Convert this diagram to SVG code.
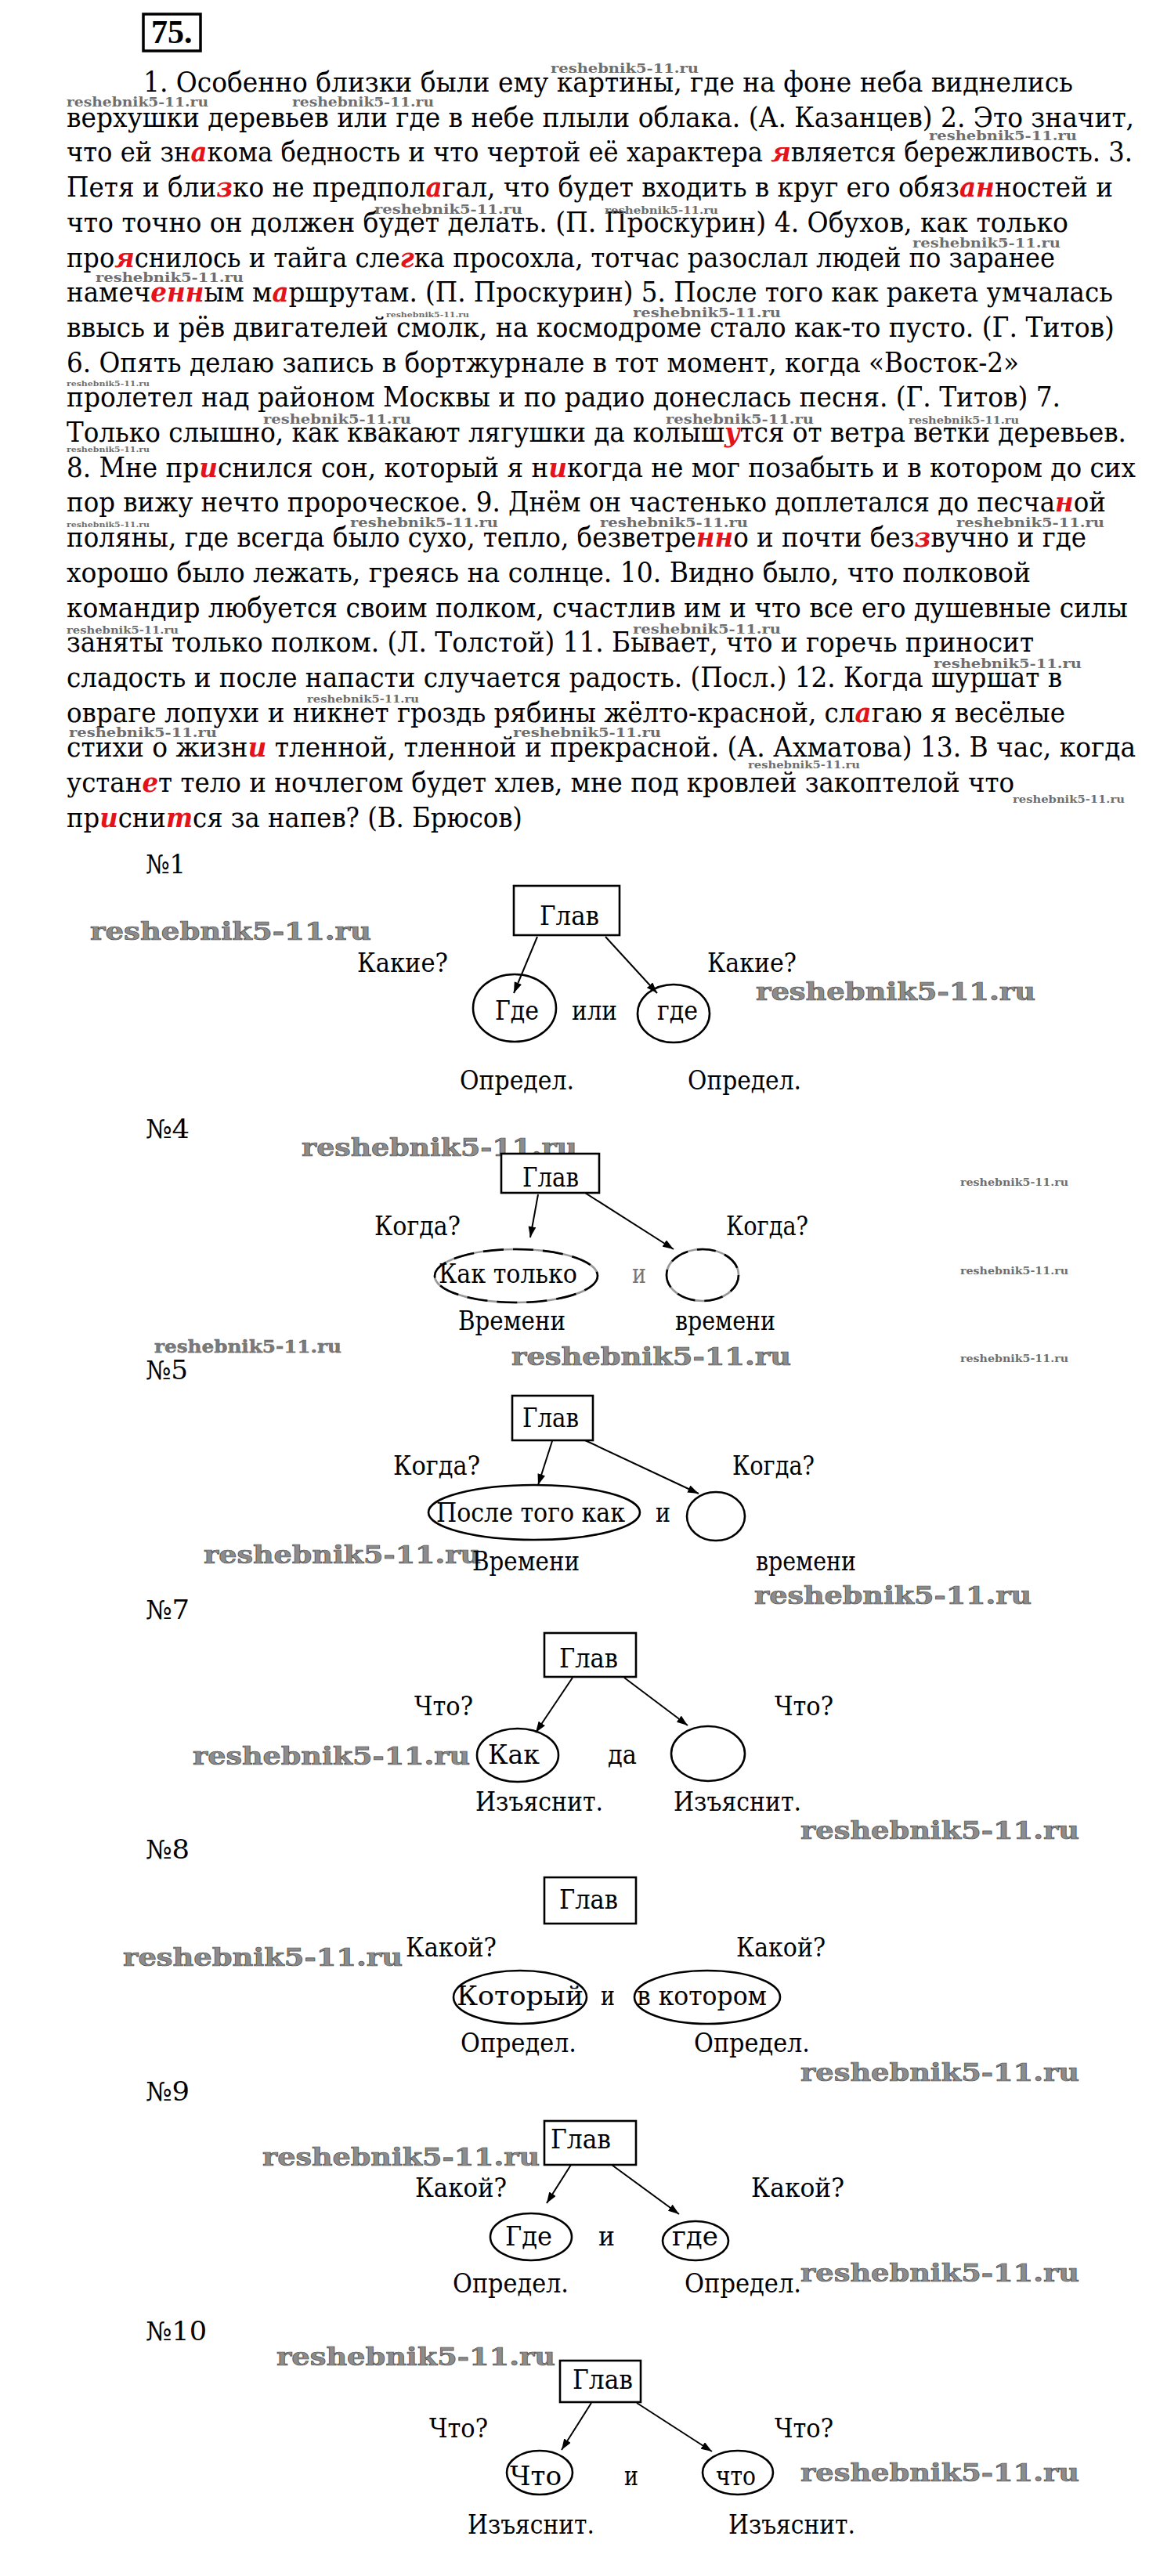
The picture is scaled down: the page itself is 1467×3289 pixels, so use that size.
<svg xmlns="http://www.w3.org/2000/svg" width="1467" height="3289" viewBox="0 0 1467 3289">
<style>
.t{font-family:"DejaVu Serif Condensed","DejaVu Serif",serif;font-stretch:condensed;font-size:36px;fill:#000}
.r{fill:#e3121b;font-style:italic;font-weight:bold}
.d{font-family:"DejaVu Serif Condensed","DejaVu Serif",serif;font-stretch:condensed;font-size:34px;fill:#000}
.no{font-family:"DejaVu Serif Condensed","DejaVu Serif",serif;font-stretch:condensed;font-size:33px;fill:#000}
.box{fill:#fff;stroke:#000;stroke-width:2.6}
.ell{fill:none;stroke:#000;stroke-width:2.6}
.con{stroke:#000;stroke-width:2;fill:none;marker-end:url(#ah)}
.wl{font-family:"DejaVu Serif",serif;font-weight:bold;font-size:32px;fill:#8c8c8c;stroke:#4a4a4a;stroke-width:0.7}
.wm{font-family:"DejaVu Serif",serif;font-weight:bold;font-size:22px;fill:#7a7a7a;stroke:#555;stroke-width:0.4}
.ws{font-family:"DejaVu Serif",serif;font-weight:bold;font-size:17px;fill:#6e6e6e}
.wt{font-family:"DejaVu Serif",serif;font-weight:bold;font-size:13px;fill:#6e6e6e}
.wx{font-family:"DejaVu Serif",serif;font-weight:bold;font-size:10px;fill:#6e6e6e}
</style>
<defs>
<marker id="ah" viewBox="0 0 14 10" refX="14" refY="5" markerWidth="14" markerHeight="10" markerUnits="userSpaceOnUse" orient="auto">
<path d="M0,0 L14,5 L0,10 z" fill="#000"/>
</marker>
</defs>
<rect width="1467" height="3289" fill="#fff"/>

<g id="header">
<rect x="183" y="18" width="73" height="47" fill="none" stroke="#000" stroke-width="3.5"/>
<text x="193" y="55" font-family="Liberation Serif, serif" font-weight="bold" font-size="42">75.</text>
</g>

<g id="text-block" class="t">
<text x="183" y="117" textLength="1187" lengthAdjust="spacingAndGlyphs">1. Особенно близки были ему картины, где на фоне неба виднелись</text>
<text x="85" y="161.7" textLength="1363" lengthAdjust="spacingAndGlyphs">верхушки деревьев или где в небе плыли облака. (А. Казанцев) 2. Это значит,</text>
<text x="85" y="206.4" textLength="1361" lengthAdjust="spacingAndGlyphs">что ей зн<tspan class="r">а</tspan>кома бедность и что чертой её характера <tspan class="r">я</tspan>вляется бережливость. 3.</text>
<text x="85" y="251.1" textLength="1336" lengthAdjust="spacingAndGlyphs">Петя и бли<tspan class="r">з</tspan>ко не предпол<tspan class="r">а</tspan>гал, что будет входить в круг его обяз<tspan class="r">ан</tspan>ностей и</text>
<text x="85" y="295.8" textLength="1279" lengthAdjust="spacingAndGlyphs">что точно он должен будет делать. (П. Проскурин) 4. Обухов, как только</text>
<text x="85" y="340.5" textLength="1262" lengthAdjust="spacingAndGlyphs">про<tspan class="r">я</tspan>снилось и тайга сле<tspan class="r">г</tspan>ка просохла, тотчас разослал людей по заранее</text>
<text x="85" y="385.2" textLength="1336" lengthAdjust="spacingAndGlyphs">намеч<tspan class="r">енн</tspan>ым м<tspan class="r">а</tspan>ршрутам. (П. Проскурин) 5. После того как ракета умчалась</text>
<text x="85" y="429.9" textLength="1338" lengthAdjust="spacingAndGlyphs">ввысь и рёв двигателей смолк, на космодроме стало как-то пусто. (Г. Титов)</text>
<text x="85" y="474.6" textLength="1216" lengthAdjust="spacingAndGlyphs">6. Опять делаю запись в бортжурнале в тот момент, когда «Восток-2»</text>
<text x="85" y="519.3" textLength="1269" lengthAdjust="spacingAndGlyphs">пролетел над районом Москвы и по радио донеслась песня. (Г. Титов) 7.</text>
<text x="85" y="564" textLength="1353" lengthAdjust="spacingAndGlyphs">Только слышно, как квакают лягушки да колыш<tspan class="r">у</tspan>тся от ветра ветки деревьев.</text>
<text x="85" y="608.7" textLength="1365" lengthAdjust="spacingAndGlyphs">8. Мне пр<tspan class="r">и</tspan>снился сон, который я н<tspan class="r">и</tspan>когда не мог позабыть и в котором до сих</text>
<text x="85" y="653.4" textLength="1327" lengthAdjust="spacingAndGlyphs">пор вижу нечто пророческое. 9. Днём он частенько доплетался до песча<tspan class="r">н</tspan>ой</text>
<text x="85" y="698.1" textLength="1302" lengthAdjust="spacingAndGlyphs">поляны, где всегда было сухо, тепло, безветре<tspan class="r">нн</tspan>о и почти без<tspan class="r">з</tspan>вучно и где</text>
<text x="85" y="742.8" textLength="1231" lengthAdjust="spacingAndGlyphs">хорошо было лежать, греясь на солнце. 10. Видно было, что полковой</text>
<text x="85" y="787.5" textLength="1355" lengthAdjust="spacingAndGlyphs">командир любуется своим полком, счастлив им и что все его душевные силы</text>
<text x="85" y="832.2" textLength="1235" lengthAdjust="spacingAndGlyphs">заняты только полком. (Л. Толстой) 11. Бывает, что и горечь приносит</text>
<text x="85" y="876.9" textLength="1271" lengthAdjust="spacingAndGlyphs">сладость и после напасти случается радость. (Посл.) 12. Когда шуршат в</text>
<text x="85" y="921.6" textLength="1275" lengthAdjust="spacingAndGlyphs">овраге лопухи и никнет гроздь рябины жёлто-красной, сл<tspan class="r">а</tspan>гаю я весёлые</text>
<text x="85" y="966.3" textLength="1365" lengthAdjust="spacingAndGlyphs">стихи о жизн<tspan class="r">и</tspan> тленной, тленной и прекрасной. (А. Ахматова) 13. В час, когда</text>
<text x="85" y="1011" textLength="1210" lengthAdjust="spacingAndGlyphs">устан<tspan class="r">е</tspan>т тело и ночлегом будет хлев, мне под кровлей закоптелой что</text>
<text x="85" y="1055.7" textLength="582" lengthAdjust="spacingAndGlyphs">пр<tspan class="r">и</tspan>сни<tspan class="r">т</tspan>ся за напев? (В. Брюсов)</text>
</g>

<g id="watermarks">
<text class="ws" x="703" y="93" textLength="189" lengthAdjust="spacingAndGlyphs">reshebnik5-11.ru</text>
<text class="ws" x="85" y="136" textLength="181" lengthAdjust="spacingAndGlyphs">reshebnik5-11.ru</text>
<text class="ws" x="373" y="136" textLength="181" lengthAdjust="spacingAndGlyphs">reshebnik5-11.ru</text>
<text class="ws" x="1186" y="179" textLength="189" lengthAdjust="spacingAndGlyphs">reshebnik5-11.ru</text>
<text class="ws" x="478" y="273" textLength="189" lengthAdjust="spacingAndGlyphs">reshebnik5-11.ru</text>
<text class="wt" x="772" y="273" textLength="145" lengthAdjust="spacingAndGlyphs">reshebnik5-11.ru</text>
<text class="ws" x="1165" y="316" textLength="189" lengthAdjust="spacingAndGlyphs">reshebnik5-11.ru</text>
<text class="ws" x="122" y="360" textLength="189" lengthAdjust="spacingAndGlyphs">reshebnik5-11.ru</text>
<text class="ws" x="808" y="405" textLength="189" lengthAdjust="spacingAndGlyphs">reshebnik5-11.ru</text>
<text class="wx" x="493" y="405" textLength="106" lengthAdjust="spacingAndGlyphs">reshebnik5-11.ru</text>
<text class="wx" x="85" y="493" textLength="106" lengthAdjust="spacingAndGlyphs">reshebnik5-11.ru</text>
<text class="ws" x="336" y="541" textLength="189" lengthAdjust="spacingAndGlyphs">reshebnik5-11.ru</text>
<text class="ws" x="850" y="541" textLength="189" lengthAdjust="spacingAndGlyphs">reshebnik5-11.ru</text>
<text class="wt" x="1160" y="541" textLength="141" lengthAdjust="spacingAndGlyphs">reshebnik5-11.ru</text>
<text class="wx" x="85" y="577" textLength="106" lengthAdjust="spacingAndGlyphs">reshebnik5-11.ru</text>
<text class="wx" x="85" y="673" textLength="106" lengthAdjust="spacingAndGlyphs">reshebnik5-11.ru</text>
<text class="ws" x="447" y="673" textLength="189" lengthAdjust="spacingAndGlyphs">reshebnik5-11.ru</text>
<text class="ws" x="766" y="673" textLength="189" lengthAdjust="spacingAndGlyphs">reshebnik5-11.ru</text>
<text class="ws" x="1221" y="673" textLength="189" lengthAdjust="spacingAndGlyphs">reshebnik5-11.ru</text>
<text class="wt" x="85" y="809" textLength="143" lengthAdjust="spacingAndGlyphs">reshebnik5-11.ru</text>
<text class="ws" x="808" y="809" textLength="189" lengthAdjust="spacingAndGlyphs">reshebnik5-11.ru</text>
<text class="ws" x="1192" y="853" textLength="189" lengthAdjust="spacingAndGlyphs">reshebnik5-11.ru</text>
<text class="wt" x="392" y="897" textLength="143" lengthAdjust="spacingAndGlyphs">reshebnik5-11.ru</text>
<text class="ws" x="88" y="941" textLength="189" lengthAdjust="spacingAndGlyphs">reshebnik5-11.ru</text>
<text class="ws" x="655" y="941" textLength="189" lengthAdjust="spacingAndGlyphs">reshebnik5-11.ru</text>
<text class="wt" x="955" y="981" textLength="143" lengthAdjust="spacingAndGlyphs">reshebnik5-11.ru</text>
<text class="wt" x="1293" y="1025" textLength="143" lengthAdjust="spacingAndGlyphs">reshebnik5-11.ru</text>

<text class="wl" x="115" y="1200" textLength="359" lengthAdjust="spacingAndGlyphs">reshebnik5-11.ru</text>
<text class="wl" x="965" y="1277" textLength="357" lengthAdjust="spacingAndGlyphs">reshebnik5-11.ru</text>
<text class="wl" x="385" y="1476" textLength="352" lengthAdjust="spacingAndGlyphs">reshebnik5-11.ru</text>
<text class="wt" x="1226" y="1514" textLength="138" lengthAdjust="spacingAndGlyphs">reshebnik5-11.ru</text>
<text class="wt" x="1226" y="1627" textLength="138" lengthAdjust="spacingAndGlyphs">reshebnik5-11.ru</text>
<text class="wt" x="1226" y="1739" textLength="138" lengthAdjust="spacingAndGlyphs">reshebnik5-11.ru</text>
<text class="wm" x="197" y="1727" textLength="239" lengthAdjust="spacingAndGlyphs">reshebnik5-11.ru</text>
<text class="wl" x="653" y="1743" textLength="357" lengthAdjust="spacingAndGlyphs">reshebnik5-11.ru</text>
<text class="wl" x="260" y="1996" textLength="354" lengthAdjust="spacingAndGlyphs">reshebnik5-11.ru</text>
<text class="wl" x="963" y="2048" textLength="354" lengthAdjust="spacingAndGlyphs">reshebnik5-11.ru</text>
<text class="wl" x="246" y="2253" textLength="354" lengthAdjust="spacingAndGlyphs">reshebnik5-11.ru</text>
<text class="wl" x="1022" y="2348" textLength="356" lengthAdjust="spacingAndGlyphs">reshebnik5-11.ru</text>
<text class="wl" x="157" y="2510" textLength="357" lengthAdjust="spacingAndGlyphs">reshebnik5-11.ru</text>
<text class="wl" x="1022" y="2657" textLength="356" lengthAdjust="spacingAndGlyphs">reshebnik5-11.ru</text>
<text class="wl" x="335" y="2765" textLength="354" lengthAdjust="spacingAndGlyphs">reshebnik5-11.ru</text>
<text class="wl" x="1022" y="2913" textLength="356" lengthAdjust="spacingAndGlyphs">reshebnik5-11.ru</text>
<text class="wl" x="353" y="3020" textLength="356" lengthAdjust="spacingAndGlyphs">reshebnik5-11.ru</text>
<text class="wl" x="1022" y="3168" textLength="356" lengthAdjust="spacingAndGlyphs">reshebnik5-11.ru</text>
</g>

<g id="connectors">
<line class="con" x1="686" y1="1196" x2="656" y2="1268"/>
<line class="con" x1="773" y1="1196" x2="839" y2="1268"/>
<line class="con" x1="687" y1="1525" x2="677" y2="1580"/>
<line class="con" x1="747" y1="1523" x2="860" y2="1595"/>
<line class="con" x1="705" y1="1840" x2="687" y2="1896"/>
<line class="con" x1="747" y1="1839" x2="892" y2="1907"/>
<line class="con" x1="731" y1="2142" x2="684" y2="2212"/>
<line class="con" x1="797" y1="2142" x2="878" y2="2203"/>
<line class="con" x1="729" y1="2764" x2="698" y2="2813"/>
<line class="con" x1="781" y1="2764" x2="867" y2="2827"/>
<line class="con" x1="755" y1="3068" x2="717" y2="3128"/>
<line class="con" x1="813" y1="3068" x2="909" y2="3130"/>
</g>

<g id="d1" class="d">
<text class="no" x="186" y="1115" textLength="51" lengthAdjust="spacingAndGlyphs">№1</text>
<g id="d1-glav"><rect class="box" x="656" y="1131" width="135" height="63"/><text x="689" y="1181" textLength="76" lengthAdjust="spacingAndGlyphs">Глав</text></g>
<g id="d1-e1"><ellipse class="ell" cx="657" cy="1287" rx="53" ry="43"/><text x="632" y="1302" textLength="56" lengthAdjust="spacingAndGlyphs">Где</text></g>
<g id="d1-e2"><ellipse class="ell" cx="860" cy="1294" rx="46" ry="37"/><text x="839" y="1302" textLength="52" lengthAdjust="spacingAndGlyphs">где</text></g>
<text x="730" y="1302" textLength="58" lengthAdjust="spacingAndGlyphs">или</text>
<text x="456" y="1241" textLength="116" lengthAdjust="spacingAndGlyphs">Какие?</text>
<text x="903" y="1241" textLength="114" lengthAdjust="spacingAndGlyphs">Какие?</text>
<text x="587" y="1391" textLength="146" lengthAdjust="spacingAndGlyphs">Определ.</text>
<text x="878" y="1391" textLength="145" lengthAdjust="spacingAndGlyphs">Определ.</text>
</g>

<g id="d4" class="d">
<text class="no" x="186" y="1453" textLength="56" lengthAdjust="spacingAndGlyphs">№4</text>
<g id="d4-glav"><rect class="box" x="640" y="1473" width="125" height="50"/><text x="667" y="1515" textLength="72" lengthAdjust="spacingAndGlyphs">Глав</text></g>
<g id="d4-e1"><ellipse cx="659" cy="1629" rx="104" ry="34" fill="none" stroke="#9a9a9a" stroke-width="2.6"/><ellipse cx="659" cy="1629" rx="104" ry="34" fill="none" stroke="#000" stroke-width="2.6" stroke-dasharray="26 12"/><text x="560" y="1638" textLength="177" lengthAdjust="spacingAndGlyphs">Как только</text></g>
<g id="d4-e2"><ellipse cx="897" cy="1628" rx="46" ry="33" fill="none" stroke="#9a9a9a" stroke-width="2.6"/><ellipse cx="897" cy="1628" rx="46" ry="33" fill="none" stroke="#000" stroke-width="2.6" stroke-dasharray="24 12"/></g>
<text x="807" y="1638" fill="#777" textLength="18" lengthAdjust="spacingAndGlyphs">и</text>
<text x="478" y="1577" textLength="110" lengthAdjust="spacingAndGlyphs">Когда?</text>
<text x="927" y="1577" textLength="105" lengthAdjust="spacingAndGlyphs">Когда?</text>
<text x="585" y="1698" textLength="137" lengthAdjust="spacingAndGlyphs">Времени</text>
<text x="862" y="1698" textLength="128" lengthAdjust="spacingAndGlyphs">времени</text>
</g>

<g id="d5" class="d">
<text class="no" x="186" y="1761" textLength="54" lengthAdjust="spacingAndGlyphs">№5</text>
<g id="d5-glav"><rect class="box" x="654" y="1782" width="103" height="57"/><text x="667" y="1822" textLength="72" lengthAdjust="spacingAndGlyphs">Глав</text></g>
<g id="d5-e1"><ellipse class="ell" cx="682" cy="1931" rx="135" ry="35"/><text x="557" y="1943" textLength="241" lengthAdjust="spacingAndGlyphs">После того как</text></g>
<g id="d5-e2"><ellipse class="ell" cx="914" cy="1936" rx="37" ry="31"/></g>
<text x="837" y="1943" textLength="19" lengthAdjust="spacingAndGlyphs">и</text>
<text x="502" y="1883" textLength="111" lengthAdjust="spacingAndGlyphs">Когда?</text>
<text x="935" y="1883" textLength="105" lengthAdjust="spacingAndGlyphs">Когда?</text>
<text x="603" y="2005" textLength="137" lengthAdjust="spacingAndGlyphs">Времени</text>
<text x="965" y="2005" textLength="128" lengthAdjust="spacingAndGlyphs">времени</text>
</g>

<g id="d7" class="d">
<text class="no" x="186" y="2067" textLength="56" lengthAdjust="spacingAndGlyphs">№7</text>
<g id="d7-glav"><rect class="box" x="695" y="2085" width="117" height="56"/><text x="714" y="2129" textLength="75" lengthAdjust="spacingAndGlyphs">Глав</text></g>
<g id="d7-e1"><ellipse class="ell" cx="661" cy="2241" rx="52" ry="34"/><text x="623" y="2252" textLength="66" lengthAdjust="spacingAndGlyphs">Как</text></g>
<g id="d7-e2"><ellipse class="ell" cx="904" cy="2239" rx="47" ry="35"/></g>
<text x="776" y="2252" textLength="37" lengthAdjust="spacingAndGlyphs">да</text>
<text x="529" y="2190" textLength="75" lengthAdjust="spacingAndGlyphs">Что?</text>
<text x="989" y="2190" textLength="75" lengthAdjust="spacingAndGlyphs">Что?</text>
<text x="607" y="2312" textLength="163" lengthAdjust="spacingAndGlyphs">Изъяснит.</text>
<text x="860" y="2312" textLength="163" lengthAdjust="spacingAndGlyphs">Изъяснит.</text>
</g>

<g id="d8" class="d">
<text class="no" x="186" y="2373" textLength="56" lengthAdjust="spacingAndGlyphs">№8</text>
<g id="d8-glav"><rect class="box" x="695" y="2397" width="117" height="59"/><text x="714" y="2437" textLength="75" lengthAdjust="spacingAndGlyphs">Глав</text></g>
<g id="d8-e1"><ellipse class="ell" cx="664" cy="2550" rx="85" ry="34"/><text x="583" y="2560" textLength="162" lengthAdjust="spacingAndGlyphs">Который</text></g>
<g id="d8-e2"><ellipse class="ell" cx="903" cy="2550" rx="93" ry="34"/><text x="813" y="2560" textLength="166" lengthAdjust="spacingAndGlyphs">в котором</text></g>
<text x="767" y="2560" textLength="18" lengthAdjust="spacingAndGlyphs">и</text>
<text x="518" y="2498" textLength="116" lengthAdjust="spacingAndGlyphs">Какой?</text>
<text x="940" y="2498" textLength="114" lengthAdjust="spacingAndGlyphs">Какой?</text>
<text x="588" y="2620" textLength="148" lengthAdjust="spacingAndGlyphs">Определ.</text>
<text x="886" y="2620" textLength="148" lengthAdjust="spacingAndGlyphs">Определ.</text>
</g>

<g id="d9" class="d">
<text class="no" x="186" y="2682" textLength="56" lengthAdjust="spacingAndGlyphs">№9</text>
<g id="d9-glav"><rect class="box" x="695" y="2708" width="117" height="56"/><text x="703" y="2743" textLength="77" lengthAdjust="spacingAndGlyphs">Глав</text></g>
<g id="d9-e1"><ellipse class="ell" cx="678" cy="2856" rx="52" ry="30"/><text x="645" y="2867" textLength="60" lengthAdjust="spacingAndGlyphs">Где</text></g>
<g id="d9-e2"><ellipse class="ell" cx="888" cy="2861" rx="42" ry="25"/><text x="858" y="2867" textLength="59" lengthAdjust="spacingAndGlyphs">где</text></g>
<text x="764" y="2867" textLength="21" lengthAdjust="spacingAndGlyphs">и</text>
<text x="530" y="2805" textLength="117" lengthAdjust="spacingAndGlyphs">Какой?</text>
<text x="959" y="2805" textLength="119" lengthAdjust="spacingAndGlyphs">Какой?</text>
<text x="578" y="2927" textLength="148" lengthAdjust="spacingAndGlyphs">Определ.</text>
<text x="874" y="2927" textLength="149" lengthAdjust="spacingAndGlyphs">Определ.</text>
</g>

<g id="d10" class="d">
<text class="no" x="186" y="2988" textLength="78" lengthAdjust="spacingAndGlyphs">№10</text>
<g id="d10-glav"><rect class="box" x="715" y="3014" width="103" height="53"/><text x="731" y="3050" textLength="77" lengthAdjust="spacingAndGlyphs">Глав</text></g>
<g id="d10-e1"><ellipse class="ell" cx="689" cy="3157" rx="42" ry="28"/><text x="651" y="3173" textLength="66" lengthAdjust="spacingAndGlyphs">Что</text></g>
<g id="d10-e2"><ellipse class="ell" cx="942" cy="3157" rx="45" ry="28"/><text x="914" y="3173" textLength="51" lengthAdjust="spacingAndGlyphs">что</text></g>
<text x="797" y="3173" textLength="18" lengthAdjust="spacingAndGlyphs">и</text>
<text x="548" y="3112" textLength="75" lengthAdjust="spacingAndGlyphs">Что?</text>
<text x="989" y="3112" textLength="75" lengthAdjust="spacingAndGlyphs">Что?</text>
<text x="597" y="3235" textLength="162" lengthAdjust="spacingAndGlyphs">Изъяснит.</text>
<text x="930" y="3235" textLength="162" lengthAdjust="spacingAndGlyphs">Изъяснит.</text>
</g>
</svg>
